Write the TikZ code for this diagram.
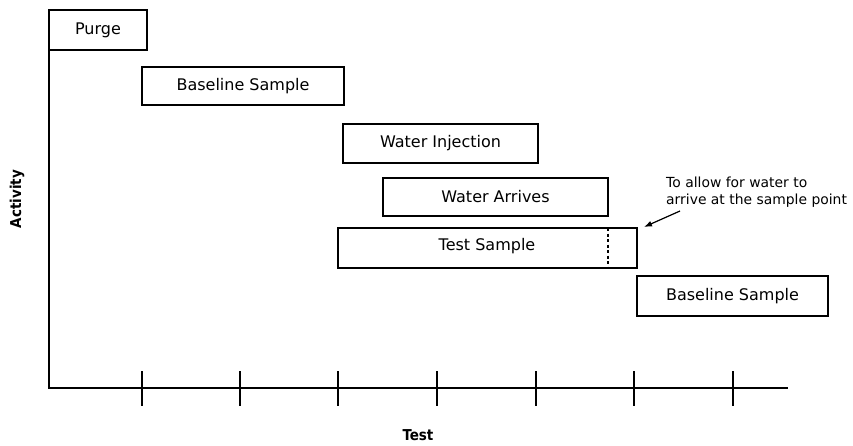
\documentclass[tikz,border=0pt]{standalone}
\usepackage{fontspec}
\usetikzlibrary{arrows.meta}
\setmainfont{DejaVu Sans}
\newfontfamily\condb{DejaVu Sans Condensed}
\begin{document}
\begin{tikzpicture}[x=1pt,y=-1pt,
  bar/.style={draw,line width=1.3pt,inner sep=0pt,font=\fontsize{16}{18}\selectfont},
  axis/.style={line width=1.7pt},
  tick/.style={line width=1.1pt},
  lbl/.style={font=\condb\bfseries\fontsize{15}{17}\selectfont}]
\useasboundingbox (0,0) rectangle (853,445);
\node[bar,minimum width=98pt,minimum height=40pt] (purge) at (98,30) {Purge};
\node[bar,minimum width=202pt,minimum height=38pt] (base1) at (243,86) {Baseline Sample};
\node[bar,minimum width=195pt,minimum height=39pt] (inj) at (440.5,143.5) {Water Injection};
\node[bar,minimum width=225pt,minimum height=38pt] (arr) at (495.5,197) {Water Arrives};
\node[bar,minimum width=299pt,minimum height=40pt] (test) at (487.5,248) {};
\node[font=\fontsize{16}{18}\selectfont] (testlbl) at (487,246) {Test Sample};
\node[bar,minimum width=191pt,minimum height=40pt] (base2) at (732.5,296) {Baseline Sample};
\coordinate (dtop) at (608,228);
\coordinate (dbot) at (608,268);
\draw[line width=1.3pt,dash pattern=on 3pt off 2.5pt] (dtop) -- (dbot);
% axes
\coordinate (top) at (49,10);
\coordinate (origin) at (49,388);
\coordinate (xend) at (788,388);
\draw[axis] (top) -- (origin) -- (xend);
\foreach \x/\n in {142/t1,240/t2,338/t3,437/t4,536/t5,634/t6,733/t7}{
  \coordinate (\n a) at (\x,371);
  \coordinate (\n b) at (\x,406);
  \draw[tick] (\n a) -- (\n b);
}
\node[lbl,rotate=90] (activity) at (17,199) {Activity};
\node[lbl] (testx) at (418,435) {Test};
\node[align=left,anchor=west,font=\fontsize{13.9}{17}\selectfont,inner sep=0pt] (note) at (666,192) {To allow for water to\\arrive at the sample point};
\coordinate (ntail) at (680,211);
\coordinate (nhead) at (644,227);
\draw[line width=1.2pt,-{Latex[length=8pt,width=6pt]}] (ntail) -- (nhead);
\end{tikzpicture}
\end{document}
